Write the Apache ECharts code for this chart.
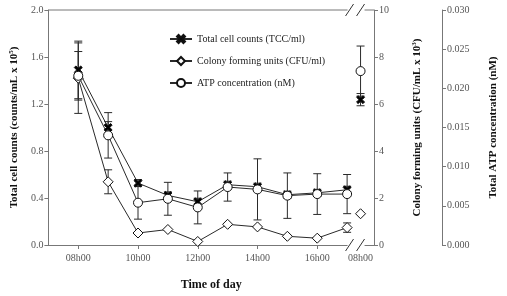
<!DOCTYPE html>
<html><head><meta charset="utf-8">
<script src="https://cdn.jsdelivr.net/npm/echarts@6/dist/echarts.min.js"></script>
<style>html,body{margin:0;padding:0;background:#fff}#c{width:507px;height:296px}</style>
</head><body><div id="c"></div>
<script>
// ---- data ----
const HOURS = [8, 9, 10, 11, 12, 13, 14, 15, 16, 17];
const NEXT_DAY_POS = 17.45; // next-day 08h00, placed just after the axis break
const X_TICKS = [8, 10, 12, 14, 16];
const X_TICK_LABELS = ['08h00', '10h00', '12h00', '14h00', '16h00'];
const NEXT_DAY_LABEL = '08h00';

// Total cell counts (x10^5 counts/mL)
const TCC = [1.49, 1.00, 0.527, 0.422, 0.368, 0.513, 0.496, 0.428, 0.444, 0.47];
const TCC_ERR = [0.245, 0.05, 0.03, 0.03, 0.03, 0.03, 0.03, 0.03, 0.03, 0.03];
const TCC_NEXT = 1.237, TCC_NEXT_ERR = 0.052;

// Colony forming units (x10^3 CFU/mL)
const CFU = [7.1, 2.69, 0.51, 0.66, 0.15, 0.88, 0.77, 0.37, 0.29, 0.74];
const CFU_ERR = [1.5, 0.51, 0, 0, 0, 0, 0, 0, 0, 0.2];
const CFU_NEXT = 1.33, CFU_NEXT_ERR = 0;

// ATP concentration (nM)
const ATP = [0.0216, 0.0140, 0.0054, 0.0059, 0.0048, 0.0074, 0.0071, 0.0063, 0.0065, 0.0065];
const ATP_ERR = [0.0031, 0.0029, 0.0021, 0.0021, 0.0021, 0.0018, 0.0039, 0.0029, 0.0026, 0.0025];
const ATP_NEXT = 0.0222, ATP_NEXT_ERR = 0.0032;

const NAMES = ['Total cell counts (TCC/ml)', 'Colony forming units (CFU/ml)', 'ATP concentration (nM)'];

// ---- chart ----
const SERIF = '"Liberation Serif","Times New Roman",serif';
const AXIS_COLOR = '#777';
const LABEL_COLOR = '#555';
const LINE_COLOR = '#2a2a2a';
const X_SYMBOL = 'path://M2,0 L5,3 L8,0 L10,2 L7,5 L10,8 L8,10 L5,7 L2,10 L0,8 L3,5 L0,2 Z';

const pts = (xs, ys) => xs.map((x, i) => [x, ys[i]]);
const errPts = (xs, ys, es) => xs.map((x, i) => [x, ys[i] - es[i], ys[i] + es[i]]).filter((d, i) => es[i] > 0);

function errSeries(yIdx, data) {
  return {
    type: 'custom', yAxisIndex: yIdx, z: 1, silent: true,
    data: data,
    renderItem: function (params, api) {
      const x = api.value(0), lo = api.value(1), hi = api.value(2);
      const a = api.coord([x, hi]), b = api.coord([x, lo]);
      const w = 4, st = { stroke: LINE_COLOR, lineWidth: 1 };
      return { type: 'group', children: [
        { type: 'line', shape: { x1: a[0], y1: a[1], x2: b[0], y2: b[1] }, style: st },
        { type: 'line', shape: { x1: a[0] - w, y1: a[1], x2: a[0] + w, y2: a[1] }, style: st },
        { type: 'line', shape: { x1: b[0] - w, y1: b[1], x2: b[0] + w, y2: b[1] }, style: st }
      ]};
    }
  };
}

function lineSeries(name, yIdx, data, symbol, size, fill) {
  return {
    name: name, type: 'line', yAxisIndex: yIdx, z: 3, data: data,
    symbol: symbol, symbolSize: size, showAllSymbol: true,
    lineStyle: { color: LINE_COLOR, width: 1 },
    itemStyle: { color: fill, borderColor: '#111', borderWidth: 1 },
    emphasis: { disabled: true }
  };
}

const labelMap = {};
X_TICKS.forEach((t, i) => labelMap[t] = X_TICK_LABELS[i]);
labelMap[NEXT_DAY_POS] = NEXT_DAY_LABEL;

const yAxisBase = {
  type: 'value', nameLocation: 'middle',
  axisLine: { show: true, lineStyle: { color: AXIS_COLOR, width: 1 } },
  axisTick: { show: true, length: 4, lineStyle: { color: AXIS_COLOR } },
  splitLine: { show: false },
  axisLabel: { fontFamily: SERIF, fontSize: 10, color: LABEL_COLOR, margin: 5 },
  nameTextStyle: {
    fontFamily: SERIF, fontSize: 11, fontWeight: 'bold', color: '#111',
    rich: { sup: { fontFamily: SERIF, fontSize: 7, fontWeight: 'bold', color: '#111', verticalAlign: 'top', padding: [0, 0, 6, 0] } }
  }
};

const chart = echarts.init(document.getElementById('c'), null, { renderer: 'canvas' });
const option = {
  animation: false,
  backgroundColor: '#fff',
  grid: { left: 40, right: 130, top: 10, bottom: 43, containLabel: false },
  legend: {
    data: NAMES, orient: 'vertical', left: 164, top: 29,
    itemWidth: 22, itemHeight: 10, itemGap: 12,
    textStyle: { fontFamily: SERIF, fontSize: 10, color: '#222' },
    selectedMode: false
  },
  xAxis: {
    type: 'value', min: 7, max: 17.9,
    name: 'Time of day', nameLocation: 'middle', nameGap: 34,
    nameTextStyle: { fontFamily: SERIF, fontSize: 12, fontWeight: 'bold', color: '#111' },
    axisLine: { show: true, onZero: false, lineStyle: { color: AXIS_COLOR, width: 1 } },
    axisTick: { show: true, length: 4, customValues: X_TICKS, lineStyle: { color: AXIS_COLOR } },
    axisLabel: { fontFamily: SERIF, fontSize: 10, color: LABEL_COLOR, margin: 8,
      customValues: X_TICKS.concat([NEXT_DAY_POS]),
      formatter: v => labelMap[v] || '' },
    splitLine: { show: false }
  },
  yAxis: [
    Object.assign({}, yAxisBase, {
      position: 'left', min: 0, max: 2, interval: 0.4,
      name: 'Total cell counts (counts/mL x 10{sup|5})', nameGap: 26,
      axisLabel: Object.assign({}, yAxisBase.axisLabel, { formatter: v => v.toFixed(1) })
    }),
    Object.assign({}, yAxisBase, {
      position: 'right', offset: 0, min: 0, max: 10, interval: 2,
      name: 'Colony forming units (CFU/mL x 10{sup|3})', nameGap: 37
    }),
    Object.assign({}, yAxisBase, {
      position: 'right', offset: 68, min: 0, max: 0.03, interval: 0.005,
      name: 'Total ATP concentration (nM)', nameGap: 46,
      axisLabel: Object.assign({}, yAxisBase.axisLabel, { formatter: v => v.toFixed(3) })
    })
  ],
  series: [
    errSeries(0, errPts(HOURS, TCC, TCC_ERR).concat(errPts([NEXT_DAY_POS], [TCC_NEXT], [TCC_NEXT_ERR]))),
    errSeries(1, errPts(HOURS, CFU, CFU_ERR).concat(errPts([NEXT_DAY_POS], [CFU_NEXT], [CFU_NEXT_ERR]))),
    errSeries(2, errPts(HOURS, ATP, ATP_ERR).concat(errPts([NEXT_DAY_POS], [ATP_NEXT], [ATP_NEXT_ERR]))),
    lineSeries(NAMES[0], 0, pts(HOURS, TCC), X_SYMBOL, 8, '#000'),
    lineSeries(NAMES[1], 1, pts(HOURS, CFU), 'diamond', 10, '#fff'),
    lineSeries(NAMES[2], 2, pts(HOURS, ATP), 'circle', 9, '#fff'),
    lineSeries(NAMES[0], 0, [[NEXT_DAY_POS, TCC_NEXT]], X_SYMBOL, 8, '#000'),
    lineSeries(NAMES[1], 1, [[NEXT_DAY_POS, CFU_NEXT]], 'diamond', 10, '#fff'),
    lineSeries(NAMES[2], 2, [[NEXT_DAY_POS, ATP_NEXT]], 'circle', 9, '#fff')
  ]
};
chart.setOption(option);

// frame top edge and axis-break marks (decoration derived from the axes)
function decorate() {
  const xl = chart.convertToPixel({ xAxisIndex: 0 }, 7);
  const xr = chart.convertToPixel({ xAxisIndex: 0 }, 17.9);
  const yt = chart.convertToPixel({ yAxisIndex: 0 }, 2);
  const yb = chart.convertToPixel({ yAxisIndex: 0 }, 0);
  const xn = chart.convertToPixel({ xAxisIndex: 0 }, NEXT_DAY_POS);
  const els = [
    { type: 'line', shape: { x1: xl, y1: yt, x2: xr, y2: yt }, style: { stroke: AXIS_COLOR, lineWidth: 1 }, z: 5 }
  ];
  [yt, yb].forEach(y => {
    els.push({ type: 'rect', shape: { x: xn - 13, y: y - 2, width: 17, height: 4 }, style: { fill: '#fff' }, z: 6 });
    [xn - 11, xn].forEach(cx => {
      els.push({ type: 'line', shape: { x1: cx - 4, y1: y + 6, x2: cx + 4, y2: y - 6 }, style: { stroke: '#333', lineWidth: 1 }, z: 7 });
    });
  });
  chart.setOption({ graphic: { elements: els } });
}
decorate();
</script>
</body></html>
